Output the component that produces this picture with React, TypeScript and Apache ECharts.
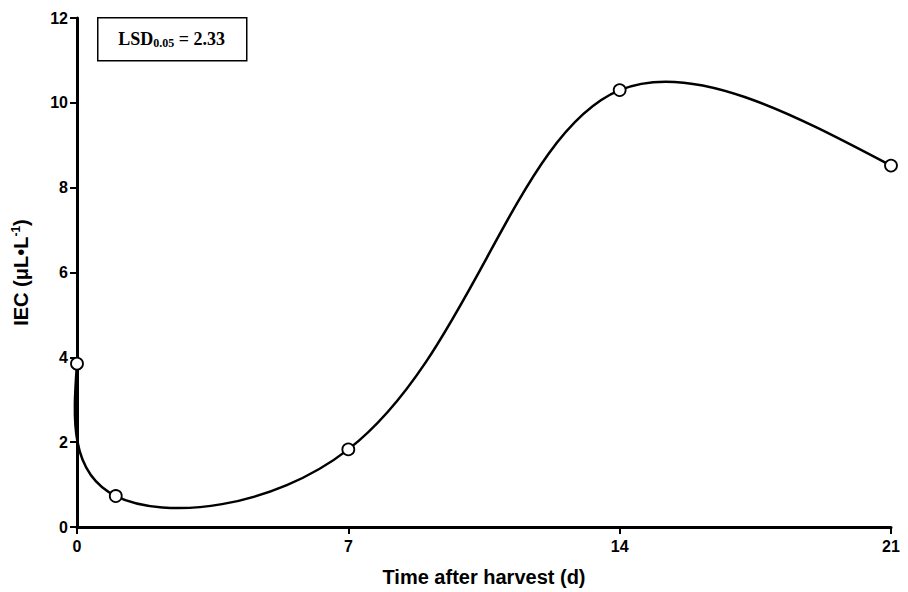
import React, { useEffect, useRef } from "react";
import * as echarts from "echarts";

const days = [0, 1, 7, 14, 21];
const iec = [3.85, 0.73, 1.83, 10.3, 8.52];
const xTicks = [0, 7, 14, 21];
const yTicks = [0, 2, 4, 6, 8, 10, 12];
const lsdLabel = "LSD";
const lsdSub = "0.05";
const lsdValue = " = 2.33";

// second derivatives of a natural cubic spline of values v over parameters t
function naturalSecond(t: number[], v: number[]): number[] {
  const n = t.length;
  const M = new Array(n).fill(0);
  if (n < 3) return M;
  const a: number[] = [], b: number[] = [], c: number[] = [], d: number[] = [];
  for (let i = 1; i < n - 1; i++) {
    const h0 = t[i] - t[i - 1];
    const h1 = t[i + 1] - t[i];
    a.push(h0);
    b.push(2 * (h0 + h1));
    c.push(h1);
    d.push(6 * ((v[i + 1] - v[i]) / h1 - (v[i] - v[i - 1]) / h0));
  }
  const m = b.length;
  for (let i = 1; i < m; i++) {
    const w = a[i] / b[i - 1];
    b[i] -= w * c[i - 1];
    d[i] -= w * d[i - 1];
  }
  const sol = new Array(m).fill(0);
  sol[m - 1] = d[m - 1] / b[m - 1];
  for (let i = m - 2; i >= 0; i--) sol[i] = (d[i] - c[i] * sol[i + 1]) / b[i];
  for (let i = 0; i < m; i++) M[i + 1] = sol[i];
  return M;
}

export default function App() {
  const ref = useRef<HTMLDivElement>(null);
  useEffect(() => {
    if (!ref.current) return;
    const chart = echarts.init(ref.current, null, { renderer: "svg" });
    const font = "'Liberation Sans', Arial, sans-serif";
    const serif = "'Liberation Serif', 'Times New Roman', serif";
    const points = days.map((d, i) => [d, iec[i]]);

    const renderSpline = (params: any, api: any) => {
      if (params.dataIndex !== 0) return null;
      const P = points.map((p) => api.coord(p));
      const t: number[] = [0];
      for (let i = 1; i < P.length; i++) {
        t.push(t[i - 1] + Math.pow(Math.hypot(P[i][0] - P[i - 1][0], 1.6 * (P[i][1] - P[i - 1][1])), 0.5));
      }
      const xs = P.map((p) => p[0]);
      const ys = P.map((p) => p[1]);
      const Mx = naturalSecond(t, xs);
      const My = naturalSecond(t, ys);
      const children: any[] = [];
      for (let i = 0; i < P.length - 1; i++) {
        const h = t[i + 1] - t[i];
        const dx0 = (xs[i + 1] - xs[i]) / h - (h * (2 * Mx[i] + Mx[i + 1])) / 6;
        const dy0 = (ys[i + 1] - ys[i]) / h - (h * (2 * My[i] + My[i + 1])) / 6;
        const dx1 = (xs[i + 1] - xs[i]) / h + (h * (Mx[i] + 2 * Mx[i + 1])) / 6;
        const dy1 = (ys[i + 1] - ys[i]) / h + (h * (My[i] + 2 * My[i + 1])) / 6;
        children.push({
          type: "bezierCurve",
          shape: {
            x1: xs[i], y1: ys[i],
            cpx1: xs[i] + (h * dx0) / 3, cpy1: ys[i] + (h * dy0) / 3,
            cpx2: xs[i + 1] - (h * dx1) / 3, cpy2: ys[i + 1] - (h * dy1) / 3,
            x2: xs[i + 1], y2: ys[i + 1],
          },
          style: { stroke: "#000", lineWidth: 2.5, fill: null },
        });
      }
      return { type: "group", children };
    };

    chart.setOption({
      animation: false,
      backgroundColor: "#ffffff",
      grid: { left: 77, right: 17, top: 18, bottom: 63, containLabel: false },
      xAxis: {
        type: "value", min: xTicks[0], max: xTicks[xTicks.length - 1], interval: 7,
        name: "Time after harvest (d)", nameLocation: "middle", nameGap: 40,
        nameTextStyle: { fontFamily: font, fontWeight: "bold", fontSize: 20, color: "#000" },
        axisLine: { show: true, onZero: false, lineStyle: { color: "#000", width: 3 } },
        axisTick: { show: true, inside: false, length: 7, lineStyle: { color: "#000", width: 2 } },
        axisLabel: { fontFamily: font, fontWeight: "bold", fontSize: 16, color: "#000", margin: 11 },
        splitLine: { show: false },
      },
      yAxis: {
        type: "value", min: yTicks[0], max: yTicks[yTicks.length - 1], interval: 2,
        name: "{a|IEC (μL•L}{s|-1}{a|)}", nameLocation: "middle", nameGap: 45,
        nameTextStyle: {
          fontFamily: font, fontWeight: "bold", fontSize: 20, color: "#000",
          rich: {
            a: { fontFamily: font, fontWeight: "bold", fontSize: 20, color: "#000" },
            s: { fontFamily: font, fontWeight: "bold", fontSize: 12, color: "#000", verticalAlign: "top", padding: [0, 0, 10, 0] },
          },
        },
        axisLine: { show: true, onZero: false, lineStyle: { color: "#000", width: 3 } },
        axisTick: { show: true, inside: false, length: 7, lineStyle: { color: "#000", width: 2 } },
        axisLabel: { fontFamily: font, fontWeight: "bold", fontSize: 16, color: "#000", margin: 9 },
        splitLine: { show: false },
      },
      series: [
        { type: "custom", data: points, renderItem: renderSpline, clip: false, silent: true, z: 4 },
        {
          type: "scatter", data: points, symbol: "circle", symbolSize: 12,
          itemStyle: { color: "#fff", borderColor: "#000", borderWidth: 1.8, opacity: 1 }, z: 5,
        },
      ],
      graphic: [
        { type: "rect", left: 97, top: 17, shape: { width: 149, height: 43 }, style: { fill: "#fff", stroke: "#000", lineWidth: 1.5 }, z: 10 },
        {
          type: "text", x: 171.5, y: 39, z: 11,
          style: {
            text: `{a|${lsdLabel}}{s|${lsdSub}}{a|${lsdValue}}`, align: "center", verticalAlign: "middle",
            rich: {
              a: { fontFamily: serif, fontWeight: "bold", fontSize: 18, fill: "#000" },
              s: { fontFamily: serif, fontWeight: "bold", fontSize: 12, fill: "#000", verticalAlign: "bottom", padding: [7, 0, 0, 0] },
            },
          },
        },
      ],
    });
    return () => chart.dispose();
  }, []);
  return <div ref={ref} style={{ position: "fixed", left: 0, top: 0, width: 908, height: 592 }} />;
}
